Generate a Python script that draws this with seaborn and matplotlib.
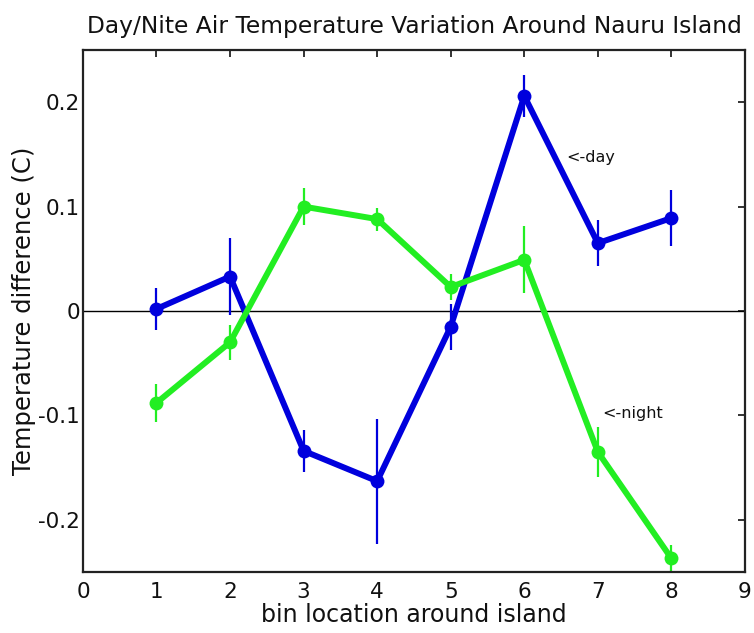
import numpy as np
import pandas as pd
import matplotlib
matplotlib.use("Agg")
import matplotlib.pyplot as plt
import seaborn as sns

bins = [1, 2, 3, 4, 5, 6, 7, 8]
day = [0.002, 0.033, -0.134, -0.163, -0.015, 0.206, 0.065, 0.089]
day_err = [0.020, 0.037, 0.020, 0.060, 0.022, 0.020, 0.022, 0.027]
night = [-0.088, -0.030, 0.100, 0.088, 0.023, 0.049, -0.135, -0.237]
night_err = [0.018, 0.017, 0.018, 0.011, 0.012, 0.032, 0.024, 0.013]
xticks = [0, 1, 2, 3, 4, 5, 6, 7, 8, 9]
yticks = [-0.2, -0.1, 0, 0.1, 0.2]
ytick_labels = ["-0.2", "-0.1", "0", "0.1", "0.2"]

sns.set_style("white")
plt.rcParams['font.family'] = ['DejaVu Sans']
plt.rcParams['text.color'] = '#111111'
plt.rcParams['axes.labelcolor'] = '#111111'

fig = plt.figure(figsize=(7.54, 6.33), dpi=100)
ax = fig.add_axes([0.110, 0.0964, 0.878, 0.8246])

BLUE = "#0000dd"
GREEN = "#22ee22"

df = pd.DataFrame({"bin": bins * 2, "val": day + night,
                   "series": ["day"] * 8 + ["night"] * 8})
sns.lineplot(data=df, x="bin", y="val", hue="series",
             palette={"day": BLUE, "night": GREEN}, linewidth=4.3,
             marker="o", markersize=10, markeredgewidth=0, legend=False, ax=ax,
             zorder=3)
ax.errorbar(bins, day, yerr=day_err, fmt="none", ecolor=BLUE, elinewidth=1.6, zorder=2)
ax.errorbar(bins, night, yerr=night_err, fmt="none", ecolor=GREEN, elinewidth=1.6, zorder=2)

ax.axhline(0, color="black", linewidth=1.0, zorder=1)

ax.set_xlim(0, 9)
ax.set_ylim(-0.25, 0.25)
ax.set_xticks(xticks)
ax.set_yticks(yticks)
ax.set_yticklabels(ytick_labels)
ax.tick_params(direction="in", length=5, width=1.2, top=True, right=True,
               labelsize=15.5, colors="#111111")
ax.tick_params(axis="x", pad=7)
ax.tick_params(axis="y", pad=2)
for s in ax.spines.values():
    s.set_color("#222222")
    s.set_linewidth(1.6)

ax.set_xlabel("bin location around island", fontsize=17, labelpad=1)
ax.set_ylabel("Temperature difference (C)", fontsize=17.5, labelpad=2)
ax.set_title("Day/Nite Air Temperature Variation Around Nauru Island",
             fontsize=16.8, pad=12)

ax.text(6.57, 0.147, "<-day", fontsize=11.5, va="center", ha="left")
ax.text(7.06, -0.098, "<-night", fontsize=11.5, va="center", ha="left")

fig.savefig("out.png", dpi=100)
